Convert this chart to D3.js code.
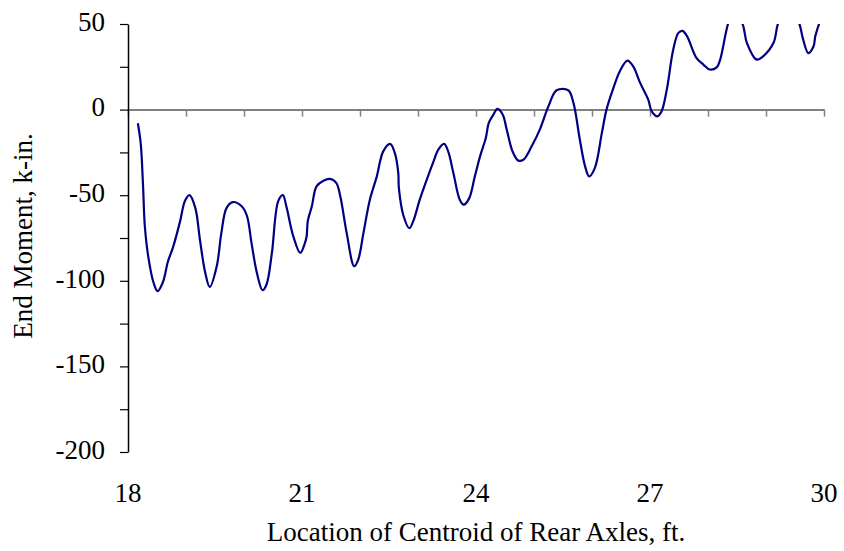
<!DOCTYPE html>
<html><head><meta charset="utf-8">
<script src="https://cdn.jsdelivr.net/npm/d3@7"></script>
<style>body{margin:0;background:#fff}svg{display:block}text{font-family:"Liberation Serif","Times New Roman",serif;fill:#000}</style>
</head><body><svg id="c" width="844" height="551"></svg>
<script>
const xVals = [18.17,18.22,18.26,18.29,18.35,18.44,18.51,18.6,18.69,18.78,18.9,18.98,19.06,19.16,19.24,19.33,19.41,19.53,19.61,19.7,19.81,19.96,20.05,20.13,20.22,20.32,20.39,20.48,20.59,20.67,20.73,20.85,20.97,21.05,21.08,21.1,21.17,21.25,21.37,21.48,21.59,21.66,21.77,21.9,21.97,22.06,22.17,22.29,22.4,22.52,22.6,22.66,22.67,22.75,22.85,22.92,23.03,23.15,23.26,23.35,23.45,23.52,23.61,23.72,23.79,23.88,23.98,24.07,24.17,24.22,24.3,24.37,24.46,24.53,24.63,24.73,24.82,24.96,25.1,25.25,25.39,25.59,25.68,25.79,25.88,25.95,26.05,26.17,26.25,26.37,26.48,26.61,26.71,26.83,26.97,27.03,27.13,27.2,27.29,27.4,27.49,27.56,27.64,27.8,27.92,28.03,28.15,28.21,28.35,28.45,28.6,28.67,28.84,28.95,29.13,29.21,29.38,29.57,29.64,29.73,29.82,29.85,29.92];
const yVals = [-8,-20,-45,-68,-86,-101,-106,-101,-88.6,-80,-65,-53.5,-50,-57.4,-76,-95,-103.6,-91.5,-72,-57.4,-54,-56.5,-62,-78,-95,-105.5,-102,-84,-53.5,-50,-56.5,-74,-83.7,-78,-74,-65,-56.5,-44.8,-41.5,-40.5,-42.8,-50.6,-72,-91.5,-87.6,-72,-52.6,-39,-24.4,-20,-25.3,-37,-45.7,-62,-69.3,-65,-52.6,-41,-31,-23.4,-20,-24.4,-37,-52.6,-55.5,-52,-39,-27.3,-16.5,-7.8,-2.9,0.4,-2.9,-11.7,-24.4,-29.8,-29.2,-21.4,-11.7,2,11.3,11.3,3.9,-17.5,-33,-39,-34,-13.6,0,12.7,22.4,28.6,25.3,15.6,5.8,-1,-3.9,-1,11.7,35,44.8,46,42.8,30.2,26.3,23.4,24.7,29.2,50.6,58,49.6,39,29.2,31.1,39,50.6,62,50.6,41,33,37,42.8,50.6];
const xTickLabels = [18,21,24,27,30];
const yTickLabels = [50,0,-50,-100,-150,-200];

const svg = d3.select("#c");
const x = d3.scaleLinear().domain([18,30]).range([128,824]);
const y = d3.scaleLinear().domain([-200,50]).range([452,24]);

svg.append("defs").append("clipPath").attr("id","clip").append("rect")
  .attr("x",128).attr("y",y(50)).attr("width",x(30)-128).attr("height",y(-200)-y(50));

const xAxis = svg.append("g").attr("transform",`translate(0,${y(0)})`)
  .call(d3.axisBottom(x).tickValues(d3.range(18,31,1)).tickSize(7).tickSizeOuter(0).tickFormat(""));
xAxis.select(".domain").attr("stroke","#808080").attr("stroke-width",2);
xAxis.selectAll(".tick line").attr("stroke","#808080").attr("stroke-width",1.5);

const yAxis = svg.append("g").attr("transform","translate(128,0)")
  .call(d3.axisLeft(y).tickValues(d3.range(-200,51,25)).tickSize(8).tickSizeOuter(0).tickFormat(""));
yAxis.select(".domain").attr("stroke","#000").attr("stroke-width",1.5);
yAxis.selectAll(".tick line").attr("stroke","#000").attr("stroke-width",1.2);

svg.append("g").selectAll("text").data(yTickLabels).join("text")
  .attr("x",105).attr("y",d=>y(d)).attr("dy","0.25em").attr("text-anchor","end")
  .style("font-size","27px").text(d=>d);

svg.append("g").selectAll("text").data(xTickLabels).join("text")
  .attr("x",d=>x(d)).attr("y",502).attr("text-anchor","middle")
  .style("font-size","27px").text(d=>d);

const pts = xVals.map((v,i)=>[v,yVals[i]]);
svg.append("path").datum(pts).attr("clip-path","url(#clip)")
  .attr("fill","none").attr("stroke","#000080").attr("stroke-width",2.2)
  .attr("d",d3.line().x(d=>x(d[0])).y(d=>y(d[1])).curve(d3.curveCatmullRom.alpha(0.5)));

svg.append("text").attr("x",476).attr("y",541).attr("text-anchor","middle")
  .style("font-size","27px").text("Location of Centroid of Rear Axles, ft.");
svg.append("text").attr("transform","translate(32,236) rotate(-90)").attr("text-anchor","middle")
  .style("font-size","27px").text("End Moment, k-in.");
</script></body></html>
